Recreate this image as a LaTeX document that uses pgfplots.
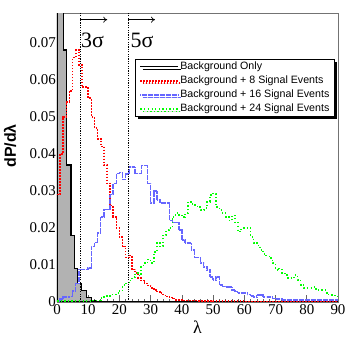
\documentclass[border=0pt]{standalone}
\usepackage{pgfplots}
\pgfplotsset{compat=1.18}
\usepackage{fontspec}
\setmainfont{Liberation Serif}
\newfontfamily\arial{Liberation Sans}
\usetikzlibrary{shadows,arrows.meta}

\begin{document}
\begin{tikzpicture}
\path[use as bounding box] (-57bp,-41bp) rectangle (299bp,302bp);
\begin{axis}[
  at={(0,0)}, anchor=south west,
  scale only axis,
  width=281bp, height=289bp,
  xmin=0, xmax=90, ymin=0, ymax=0.078,
  xtick={0,10,...,90}, minor x tick num=4,
  ytick={0,0.01,...,0.07}, minor y tick num=4,
  scaled y ticks=false,
  yticklabel style={/pgf/number format/fixed, /pgf/number format/precision=2, inner sep=1bp},
  /pgf/number format/assume math mode=true,
  tick align=inside, xtick pos=bottom, ytick pos=left,
  major tick length=7bp, minor tick length=3.5bp,
  tick style={black!60, line width=0.6bp},
  axis line style={black!55, line width=0.8bp},
  ticklabel style={font=\fontsize{15}{17}\selectfont},
  xticklabel style={inner sep=2bp},
  xlabel={λ},
  xlabel style={at={(axis description cs:0.5,-0.087)}, anchor=center, font=\fontsize{18}{20}\selectfont},
  ylabel={dP/dλ},
  ylabel style={at={(axis description cs:-0.167,0.54)}, anchor=center, font=\arial\bfseries\fontsize{16}{18}\selectfont},
  legend style={at={(axis description cs:0.989,0.841)}, anchor=north east,
    draw=black, line width=0.6bp, fill=white,
    drop shadow={shadow xshift=2.5bp, shadow yshift=-2.5bp, fill=black, opacity=1},
    font=\arial\fontsize{10.7}{12}\selectfont,
    inner xsep=4bp, inner ysep=0.5bp,
    nodes={inner xsep=1.2bp, inner ysep=2.4bp}},
  legend cell align=left,
  legend image code/.code={\draw[#1, fill=none] (0bp,0bp) -- (38bp,0bp);},
]
% background only
\addplot[const plot, draw=black, line width=1.2bp, fill=gray!60] coordinates {
  (0,0.15) (2.2,0.068) (3.1,0.037) (4.5,0.018) (5.5,0.009) (6.5,0.005)
  (7.9,0.003) (9.5,0.0013) (11,0.0005) (12.5,0) (90,0)
} \closedcycle;
\addlegendentry{Background Only}
% background + 8 signal events
\addplot[const plot, red, line width=1.6bp, dash pattern=on 1.6bp off 1.4bp] coordinates {
  (0,0.029) (1,0.040) (2,0.050) (3,0.054) (4,0.057) (5,0.066) (6,0.068)
  (7,0.064) (8,0.058) (9,0.058) (10,0.055) (11,0.050) (12,0.047) (13,0.044)
  (14,0.042) (15,0.037) (16,0.032) (17,0.026) (18,0.023) (19,0.020)
  (20,0.0175) (21,0.015) (22,0.012) (23,0.0125) (24,0.0088) (25,0.0078)
  (26,0.0065) (27,0.0058) (28,0.005) (29,0.0045) (30,0.0038) (31,0.0033)
  (32,0.0028) (33,0.0024) (34,0.0018) (35,0.0015) (36,0.0012) (37,0.0009)
  (38,0.0006) (39,0.0005) (40,0.0004) (45,0.0003) (50,0.0002) (60,0.0001)
  (90,0.0001)
};
\addlegendentry{Background + 8 Signal Events}
% background + 16 signal events
\addplot[const plot, blue!60, line width=1.5bp, dash pattern=on 0.6bp off 0.6bp] coordinates {
  (0,0.0003) (1,0.0008) (2,0.0013) (3,0.0013) (4,0.0015) (5,0.003) (6,0.005)
  (7,0.0088) (8,0.0088) (9,0.0088) (10,0.0092) (11,0.015) (12,0.016)
  (13,0.0186) (14,0.023) (15,0.025) (16,0.025) (17,0.029) (18,0.032)
  (19,0.0347) (20,0.035) (21,0.033) (22,0.0345) (23,0.0364) (24,0.0364)
  (25,0.0347) (26,0.0347) (27,0.0369) (28,0.0369) (29,0.032) (30,0.0267)
  (31,0.030) (32,0.0275) (33,0.0267) (34,0.0267) (35,0.0267) (36,0.022)
  (37,0.0215) (38,0.0215) (39,0.0194) (40,0.0167) (41,0.0159) (42,0.0159)
  (43,0.014) (44,0.012) (45,0.012) (46,0.0105) (47,0.0094) (48,0.0086)
  (49,0.0067) (50,0.0060) (51,0.0067) (52,0.0046) (53,0.0042) (54,0.004)
  (55,0.004) (56,0.0032) (57,0.0028) (58,0.0024) (59,0.0024) (60,0.0024)
  (61,0.002) (62,0.0016) (63,0.0013) (64,0.0019) (65,0.0019) (66,0.0013)
  (67,0.0013) (68,0.0013) (69,0.001) (70,0.0008) (72,0.0005) (90,0.0005)
};
\addlegendentry{Background + 16 Signal Events}
% background + 24 signal events
\addplot[const plot, green, line width=1.6bp, dash pattern=on 1.6bp off 2.4bp on 0.8bp off 2.4bp] coordinates {
  (0,0.0002) (11,0.0004) (14,0.001) (15,0.0013) (16,0.0016) (17,0.002)
  (19,0.0024) (20,0.003) (21,0.0046) (22,0.005) (23,0.0058) (24,0.0067)
  (25,0.0078) (26,0.0072) (27,0.0098) (28,0.0105) (29,0.0115) (30,0.0105)
  (31,0.0135) (32,0.016) (33,0.015) (34,0.018) (35,0.0195) (36,0.020)
  (37,0.023) (38,0.024) (39,0.0235) (40,0.023) (41,0.024) (42,0.027)
  (43,0.0265) (44,0.0262) (45,0.0256) (46,0.0248) (47,0.0253) (48,0.027)
  (49,0.0288) (50,0.0293) (51,0.0256) (52,0.0248) (53,0.024) (54,0.023)
  (55,0.022) (56,0.0234) (57,0.0215) (58,0.019) (59,0.020) (60,0.020)
  (61,0.020) (62,0.0175) (63,0.0159) (64,0.0153) (65,0.014) (66,0.013)
  (67,0.0125) (68,0.0118) (69,0.0105) (70,0.0086) (71,0.009) (72,0.0078)
  (73,0.0073) (74,0.0065) (75,0.0065) (76,0.0073) (77,0.006) (78,0.0046)
  (79,0.0038) (80,0.0038) (81,0.0038) (82,0.004) (83,0.0032) (84,0.0032)
  (85,0.0032) (86,0.0025) (87,0.0019) (88,0.0019) (89,0.0015) (90,0.0015)
};
\addlegendentry{Background + 24 Signal Events}
% significance thresholds
\addplot[black, line width=0.6bp, dash pattern=on 1.2bp off 1.2bp, forget plot] coordinates {(7.4,0) (7.4,0.078)};
\addplot[black, line width=0.6bp, dash pattern=on 1.2bp off 1.2bp, forget plot] coordinates {(22.7,0) (22.7,0.078)};
\draw[-{To[length=4bp,width=6bp]}, line width=0.7bp] (axis cs:7.4,0.0762) -- (axis cs:16.1,0.0762);
\draw[-{To[length=4bp,width=6bp]}, line width=0.7bp] (axis cs:22.7,0.0762) -- (axis cs:31.4,0.0762);
\node[anchor=base west, inner sep=0pt, font=\fontsize{22}{24}\selectfont] at (axis cs:7.7,0.0687) {3σ};
\node[anchor=base west, inner sep=0pt, font=\fontsize{22}{24}\selectfont] at (axis cs:23.5,0.0687) {5σ};
\end{axis}
\end{tikzpicture}
\end{document}
